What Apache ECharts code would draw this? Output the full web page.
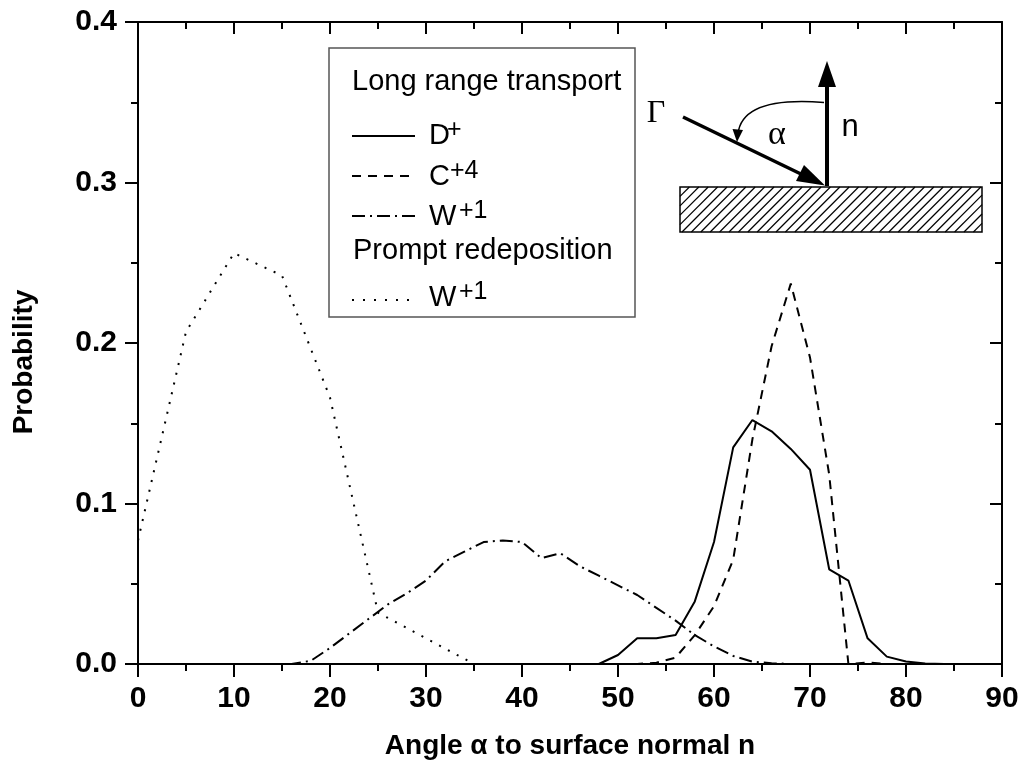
<!DOCTYPE html>
<html>
<head>
<meta charset="utf-8">
<script src="https://cdn.jsdelivr.net/npm/echarts@6/dist/echarts.min.js"></script>
<style>
html, body { margin: 0; padding: 0; background: #fff; }
#main { width: 1024px; height: 770px; }
</style>
</head>
<body>
<div id="main"></div>
<script>
// angle grid of the long range transport curves (every 2 degrees)
var angles = [0, 2, 4, 6, 8, 10, 12, 14, 16, 18, 20, 22, 24, 26, 28, 30, 32, 34, 36, 38, 40, 42, 44,
    46, 48, 50, 52, 54, 56, 58, 60, 62, 64, 66, 68, 70, 72, 74, 76, 78, 80, 82, 84, 86, 88, 90];

var dPlus = [0, 0, 0, 0, 0, 0, 0, 0, 0, 0, 0, 0, 0, 0, 0, 0, 0, 0, 0, 0, 0, 0, 0,
    0, 0, 0.0056, 0.016, 0.016, 0.018, 0.039, 0.076, 0.135, 0.152, 0.145, 0.134, 0.121, 0.059, 0.052,
    0.016, 0.0046, 0.0015, 0.0003, 0, 0, 0, 0];

var cPlus4 = [0, 0, 0, 0, 0, 0, 0, 0, 0, 0, 0, 0, 0, 0, 0, 0, 0, 0, 0, 0, 0, 0, 0,
    0, 0, 0, 0, 0.0008, 0.004, 0.018, 0.036, 0.065, 0.14, 0.198, 0.237, 0.191, 0.118, 0,
    0.001, 0, 0, 0, 0, 0, 0, 0];

var wPlus1 = [0, 0, 0, 0, 0, 0, 0, 0, 0, 0.002, 0.010, 0.019, 0.028, 0.037, 0.044, 0.052, 0.064, 0.070,
    0.076, 0.077, 0.076, 0.066, 0.069, 0.061, 0.055, 0.049, 0.043, 0.035, 0.027, 0.018, 0.011, 0.005,
    0.0015, 0.0005, 0, 0, 0, 0, 0, 0, 0, 0, 0, 0, 0, 0];

// prompt redeposition curve (every 5 degrees)
var promptAngles = [0, 5, 10, 15, 20, 25, 30, 35, 40, 45, 50, 55, 60, 65, 70, 75, 80, 85, 90];
var promptW = [0.077, 0.207, 0.256, 0.242, 0.166, 0.032, 0.016, 0, 0, 0, 0, 0, 0, 0, 0, 0, 0, 0, 0];

function pairs(xs, ys) {
    var out = [];
    for (var i = 0; i < xs.length; i++) {
        out.push([xs[i], ys[i]]);
    }
    return out;
}

var FONT = '"Liberation Sans", Arial, sans-serif';
var SERIF = '"Liberation Serif", "Times New Roman", serif';

function curve(name, xs, ys, dash) {
    return {
        name: name,
        type: 'line',
        data: pairs(xs, ys),
        showSymbol: false,
        symbol: 'none',
        z: 3,
        lineStyle: { color: '#000', width: 2, type: dash, cap: 'butt' }
    };
}

function txt(x, y, text, font, align) {
    return {
        type: 'text',
        x: x,
        y: y,
        z: 101,
        style: {
            text: text,
            font: font,
            fill: '#000',
            textAlign: align || 'left',
            textVerticalAlign: 'middle',
            align: align || 'left',
            verticalAlign: 'middle'
        }
    };
}

function sample(y, dash) {
    return {
        type: 'line',
        z: 101,
        shape: { x1: 352, y1: y, x2: 415, y2: y },
        style: { stroke: '#000', lineWidth: 2, lineDash: dash }
    };
}

var graphic = [];

// legend box
graphic.push({
    type: 'rect',
    z: 100,
    shape: { x: 329, y: 48, width: 306, height: 269 },
    style: { fill: '#fff', stroke: '#555', lineWidth: 1.5 }
});
var legFont = '29px ' + FONT;
var supFont = '25px ' + FONT;
graphic.push(txt(352, 82, 'Long range transport', legFont));
graphic.push(sample(136, null));
graphic.push(txt(429, 136, 'D', legFont));
graphic.push(txt(447, 130, '+', supFont));
graphic.push(sample(176, [9, 7]));
graphic.push(txt(429, 177, 'C', legFont));
graphic.push(txt(450, 171, '+4', supFont));
graphic.push(sample(216, [13, 5, 2, 5]));
graphic.push(txt(429, 217, 'W', legFont));
graphic.push(txt(459, 211, '+1', supFont));
graphic.push(txt(353, 251, 'Prompt redeposition', legFont));
graphic.push(sample(300, [2, 9]));
graphic.push(txt(429, 298, 'W', legFont));
graphic.push(txt(459, 292, '+1', supFont));

// inset sketch: surface, incident flux and normal
graphic.push({
    type: 'rect',
    z: 100,
    shape: { x: 680, y: 187, width: 302, height: 45 },
    style: { fill: '#fff', stroke: '#000', lineWidth: 1.5 }
});
for (var k = 0; k < 40; k++) {
    var x0 = 680 - 45 + k * 9.4;
    var t0 = Math.max(0, (680 - x0) / 45);
    var t1 = Math.min(1, (982 - x0) / 45);
    if (t1 <= t0) continue;
    graphic.push({
        type: 'line',
        z: 101,
        shape: { x1: x0 + t0 * 45, y1: 232 - t0 * 45, x2: x0 + t1 * 45, y2: 232 - t1 * 45 },
        style: { stroke: '#000', lineWidth: 1.2 }
    });
}
graphic.push({
    type: 'line', z: 102,
    shape: { x1: 683, y1: 117, x2: 803, y2: 175 },
    style: { stroke: '#000', lineWidth: 3.5 }
});
graphic.push({
    type: 'polygon', z: 102,
    shape: { points: [[825, 185.5], [796, 181], [804, 165]] },
    style: { fill: '#000' }
});
graphic.push({
    type: 'line', z: 102,
    shape: { x1: 827, y1: 186, x2: 827, y2: 84 },
    style: { stroke: '#000', lineWidth: 4 }
});
graphic.push({
    type: 'polygon', z: 102,
    shape: { points: [[827, 61], [818, 87], [836, 87]] },
    style: { fill: '#000' }
});
graphic.push({
    type: 'bezierCurve', z: 102,
    shape: { x1: 824, y1: 102.5, cpx1: 742, cpy1: 96, x2: 738, y2: 134 },
    style: { stroke: '#000', lineWidth: 1.5, fill: null }
});
graphic.push({
    type: 'polygon', z: 102,
    shape: { points: [[737, 142], [732.5, 129], [743, 130]] },
    style: { fill: '#000' }
});
graphic.push(txt(656, 114, '\u0393', '32px ' + SERIF, 'center'));
graphic.push(txt(777, 135, '\u03b1', '34px ' + SERIF, 'center'));
graphic.push(txt(850, 127, 'n', '31px ' + FONT, 'center'));

// y axis title
graphic.push({
    type: 'text',
    x: 24,
    y: 362,
    rotation: Math.PI / 2,
    z: 101,
    style: {
        text: 'Probability',
        font: 'bold 28px ' + FONT,
        fill: '#000',
        textAlign: 'center',
        textVerticalAlign: 'middle',
        align: 'center',
        verticalAlign: 'middle'
    }
});

var axisLine = { show: true, onZero: false, lineStyle: { color: '#000', width: 2 } };
var tickStyle = { color: '#000', width: 2 };

var option = {
    animation: false,
    backgroundColor: '#fff',
    grid: { left: 138, right: 22, top: 22, bottom: 106 },
    xAxis: [
        {
            type: 'value', min: 0, max: 90, interval: 10,
            name: 'Angle \u03b1 to surface normal n',
            nameLocation: 'middle',
            nameGap: 68,
            nameTextStyle: { fontFamily: FONT, fontWeight: 'bold', fontSize: 28, color: '#000' },
            axisLine: axisLine,
            axisTick: { show: true, length: 13, lineStyle: tickStyle },
            minorTick: { show: true, splitNumber: 2, length: 7, lineStyle: tickStyle },
            axisLabel: { margin: 20, fontFamily: FONT, fontWeight: 'bold', fontSize: 30, color: '#000' },
            splitLine: { show: false }
        },
        {
            type: 'value', min: 0, max: 90, interval: 10, position: 'top',
            axisLine: axisLine,
            axisTick: { show: true, inside: true, length: 12, lineStyle: tickStyle },
            minorTick: { show: true, splitNumber: 2, length: 7, lineStyle: tickStyle },
            axisLabel: { show: false },
            splitLine: { show: false }
        }
    ],
    yAxis: [
        {
            type: 'value', min: 0, max: 0.4, interval: 0.1,
            axisLine: axisLine,
            axisTick: { show: true, length: 13, lineStyle: tickStyle },
            minorTick: { show: true, splitNumber: 2, length: 7, lineStyle: tickStyle },
            axisLabel: {
                margin: 21, fontFamily: FONT, fontWeight: 'bold', fontSize: 30, color: '#000',
                formatter: function (v) { return v.toFixed(1); }
            },
            splitLine: { show: false }
        },
        {
            type: 'value', min: 0, max: 0.4, interval: 0.1, position: 'right',
            axisLine: axisLine,
            axisTick: { show: true, inside: true, length: 12, lineStyle: tickStyle },
            minorTick: { show: true, splitNumber: 2, length: 7, lineStyle: tickStyle },
            axisLabel: { show: false },
            splitLine: { show: false }
        }
    ],
    series: [
        curve('D+', angles, dPlus, 'solid'),
        curve('C+4', angles, cPlus4, [9, 7]),
        curve('W+1', angles, wPlus1, [13, 5, 2, 5]),
        curve('W+1 prompt', promptAngles, promptW, [2, 8])
    ],
    graphic: graphic
};

var myChart = echarts.init(document.getElementById('main'));
myChart.setOption(option);
</script>
</body>
</html>
